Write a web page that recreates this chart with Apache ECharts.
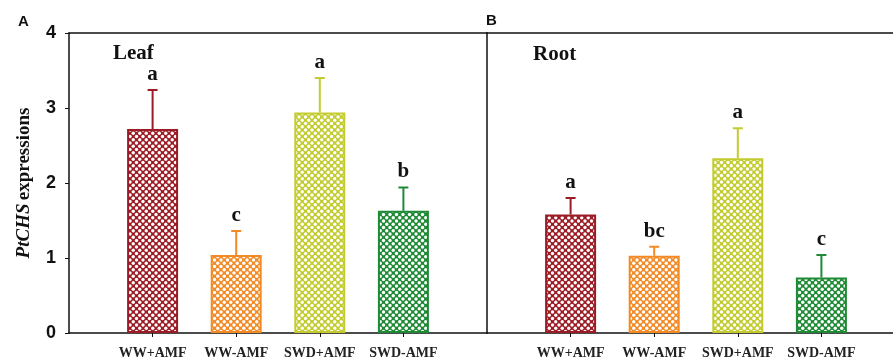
<!DOCTYPE html>
<html><head><meta charset="utf-8">
<script src="https://cdn.jsdelivr.net/npm/echarts@6/dist/echarts.min.js"></script>
<style>html,body{margin:0;padding:0;background:#fff}#c{width:893px;height:363px}</style>
</head><body><div id="c"></div>
<script>
const categories = ['WW+AMF', 'WW-AMF', 'SWD+AMF', 'SWD-AMF'];
const leafMean = [2.72, 1.04, 2.94, 1.63];
const leafErr = [0.52, 0.32, 0.46, 0.31];
const leafLetters = ['a', 'c', 'a', 'b'];
const rootMean = [1.58, 1.03, 2.33, 0.74];
const rootErr = [0.22, 0.12, 0.40, 0.30];
const rootLetters = ['a', 'bc', 'a', 'c'];
const yTicks = [0, 1, 2, 3, 4];
const barColors = ['#9b1c24', '#f28a26', '#c3cb2e', '#1f8a36'];

function makePattern(color) {
  const s = 13, d = 6.5, r = 1.7;
  const cv = document.createElement('canvas');
  cv.width = s; cv.height = s;
  const ctx = cv.getContext('2d');
  ctx.fillStyle = color; ctx.fillRect(0, 0, s, s);
  ctx.fillStyle = '#ffffff';
  const pts = [];
  for (let i = 0; i <= 2; i++) for (let j = 0; j <= 2; j++) {
    pts.push([i * d, j * d]);
    pts.push([d / 2 + i * d, d / 2 + j * d]);
  }
  pts.forEach(([x, y]) => {
    ctx.beginPath();
    ctx.arc(x, y, r, 0, Math.PI * 2);
    ctx.closePath(); ctx.fill();
  });
  return cv;
}
const patterns = barColors.map(makePattern);
const catPos = categories.map((c, i) => i + 1);

function barData(means) {
  return means.map((m, i) => ({
    value: [catPos[i], m],
    itemStyle: { color: { image: patterns[i], repeat: 'repeat' }, borderColor: barColors[i], borderWidth: 2 }
  }));
}
function errData(means, errs) {
  return means.map((m, i) => [catPos[i], m, m + errs[i]]);
}
function errRender(letters) {
  return function (params, api) {
    const i = params.dataIndex;
    const x = api.value(0), m = api.value(1), t = api.value(2);
    const p0 = api.coord([x, m]), p1 = api.coord([x, t]);
    const col = barColors[i];
    return {
      type: 'group',
      children: [
        { type: 'line', shape: { x1: p0[0], y1: p0[1], x2: p1[0], y2: p1[1] }, style: { stroke: col, lineWidth: 2 } },
        { type: 'line', shape: { x1: p1[0] - 5, y1: p1[1], x2: p1[0] + 5, y2: p1[1] }, style: { stroke: col, lineWidth: 2 } },
        { type: 'text', x: p1[0], y: p1[1] - 5, style: { text: letters[i], textAlign: 'center', textVerticalAlign: 'bottom', font: 'bold 21px "Liberation Serif"', fill: '#111' } }
      ]
    };
  };
}
function xAxis(gi, max) {
  return {
    type: 'value', gridIndex: gi, min: 0, max: max, interval: 1,
    splitLine: { show: false },
    axisLine: { show: true, onZero: false, lineStyle: { color: '#111', width: 1.5 } },
    axisTick: { show: true, length: 4, lineStyle: { color: '#111' }, customValues: catPos },
    axisLabel: {
      margin: 13, fontFamily: 'Liberation Serif', fontWeight: 'bold', fontSize: 14, color: '#222',
      customValues: catPos, formatter: (v) => categories[Math.round(v) - 1] || ''
    }
  };
}
function topAxis(gi, max) {
  return {
    type: 'value', gridIndex: gi, position: 'top', min: 0, max: max,
    splitLine: { show: false }, axisTick: { show: false }, axisLabel: { show: false },
    axisLine: { show: true, onZero: false, lineStyle: { color: '#111', width: 1.5 } }
  };
}
const chart = echarts.init(document.getElementById('c'), null, { renderer: 'canvas' });
chart.setOption({
  animation: false,
  grid: [
    { left: 69, top: 33, width: 418, height: 300 },
    { left: 487, top: 33, right: 0, height: 300 }
  ],
  xAxis: [xAxis(0, 5), xAxis(1, 406 / 83.6), topAxis(0, 5), topAxis(1, 406 / 83.6)],
  yAxis: [
    {
      type: 'value', gridIndex: 0, min: yTicks[0], max: yTicks[yTicks.length - 1], interval: 1,
      splitLine: { show: false },
      axisLine: { show: true, lineStyle: { color: '#111', width: 1.5 } },
      axisTick: { show: true, length: 4, lineStyle: { color: '#111' } },
      axisLabel: { margin: 13, fontFamily: 'Liberation Sans', fontWeight: 'bold', fontSize: 18, color: '#111' },
      name: '{i|PtCHS} {n|expressions}', nameLocation: 'middle', nameGap: 35, nameRotate: 90,
      nameTextStyle: {
        rich: {
          i: { fontFamily: 'Liberation Serif', fontStyle: 'italic', fontWeight: 'bold', fontSize: 19, color: '#111' },
          n: { fontFamily: 'Liberation Serif', fontWeight: 'bold', fontSize: 19, color: '#111' }
        }
      }
    },
    {
      type: 'value', gridIndex: 1, min: yTicks[0], max: yTicks[yTicks.length - 1], interval: 1,
      splitLine: { show: false },
      axisLine: { show: true, lineStyle: { color: '#111', width: 1.5 } },
      axisTick: { show: false }, axisLabel: { show: false }
    }
  ],
  series: [
    { type: 'bar', xAxisIndex: 0, yAxisIndex: 0, barWidth: 51, data: barData(leafMean) },
    { type: 'bar', xAxisIndex: 1, yAxisIndex: 1, barWidth: 51, data: barData(rootMean) },
    { type: 'custom', xAxisIndex: 0, yAxisIndex: 0, renderItem: errRender(leafLetters), data: errData(leafMean, leafErr), z: 5 },
    { type: 'custom', xAxisIndex: 1, yAxisIndex: 1, renderItem: errRender(rootLetters), data: errData(rootMean, rootErr), z: 5 }
  ],
  graphic: [
    { type: 'text', left: 18, top: 14, style: { text: 'A', font: 'bold 15px "Liberation Sans"', fill: '#111' } },
    { type: 'text', left: 486, top: 13, style: { text: 'B', font: 'bold 15px "Liberation Sans"', fill: '#111' } },
    { type: 'text', left: 113, top: 43, style: { text: 'Leaf', font: 'bold 21px "Liberation Serif"', fill: '#111' } },
    { type: 'text', left: 533, top: 44, style: { text: 'Root', font: 'bold 21px "Liberation Serif"', fill: '#111' } }
  ]
});
</script></body></html>
